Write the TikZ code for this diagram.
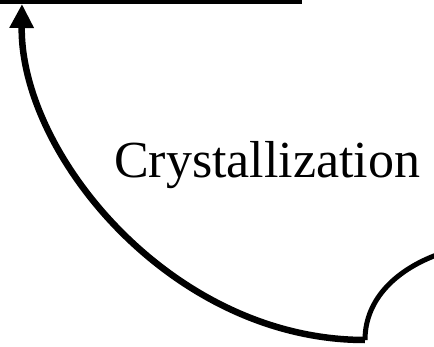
\documentclass[tikz,border=0pt]{standalone}
\usepackage{fontspec}
\setmainfont{Liberation Serif}
\usetikzlibrary{arrows.meta,positioning}

\begin{document}
\begin{tikzpicture}[
  x=1pt, y=1pt,
  thick arc/.style={draw, line width=6.5pt, -{Triangle[length=24pt, width=23pt]}},
  thin arc/.style={draw, line width=5pt},
  rule/.style={draw, line width=4.5pt},
  lbl/.style={inner sep=0pt, anchor=base west, font=\fontsize{52}{60}\selectfont},
]
\useasboundingbox (0,0) rectangle (434,346);
\clip (0,0) rectangle (434,346);
% anchor points
\coordinate (corner) at (365,6);
\coordinate (tip) at (22,342);
\coordinate (exit) at (442,93);
\coordinate (ruleL) at (-2,344);
\coordinate (ruleR) at (302,344);
% label
\node[lbl] (cryst) at (114,168) {Crystallization};
% curves
\draw[thick arc] (corner) .. controls (172,6) and (20,192) .. (tip);
\draw[thin arc] (corner) .. controls (365,48) and (398,78) .. (exit);
\draw[rule] (ruleL) -- (ruleR);
\end{tikzpicture}
\end{document}
